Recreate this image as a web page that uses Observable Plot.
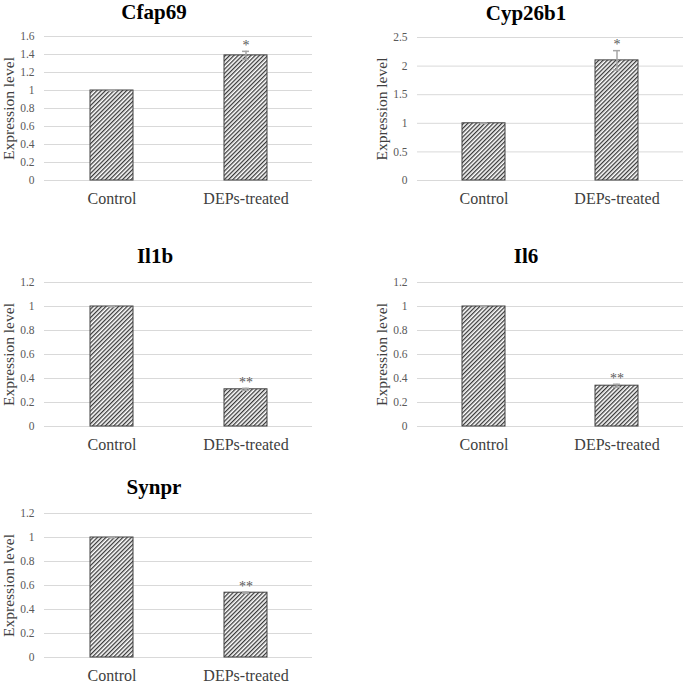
<!DOCTYPE html>
<html>
<head>
<meta charset="utf-8">
<script src="https://cdn.jsdelivr.net/npm/d3@7"></script>
<script src="https://cdn.jsdelivr.net/npm/@observablehq/plot@0.6"></script>
<style>
  body { margin: 0; background: #fff; }
  #wrap { position: relative; width: 685px; height: 683px; overflow: hidden; font-family: "Liberation Serif", serif; }
  #wrap svg, #wrap svg text { font-family: "Liberation Serif", serif !important; }
  .panel { position: absolute; }
  .title { position: absolute; width: 200px; text-align: center; font: bold 21px/22px "Liberation Serif", serif; color: #000; }
</style>
</head>
<body>
<svg width="0" height="0" style="position:absolute">
  <defs>
    <pattern id="hatch" patternUnits="userSpaceOnUse" width="3" height="3" patternTransform="rotate(45)">
      <rect width="3" height="3" fill="#ffffff"/>
      <rect width="1.3" height="3" fill="#3a3a3a"/>
    </pattern>
  </defs>
</svg>
<div id="wrap"></div>
<script>
// ---- data ----
const genes = ["Cfap69", "Cyp26b1", "Il1b", "Il6", "Synpr"];
const groups = ["Control", "DEPs-treated"];
const controlValues = [1, 1, 1, 1, 1];
const controlErrors = [0.003, 0.003, 0.002, 0.002, 0.002];
const treatedValues = [1.39, 2.1, 0.31, 0.34, 0.54];
const treatedErrors = [0.045, 0.17, 0.008, 0.012, 0.005];
const significance = ["*", "*", "**", "**", "**"];
const yMaxes = [1.6, 2.5, 1.2, 1.2, 1.2];
const yTickValues = [
  [0, 0.2, 0.4, 0.6, 0.8, 1, 1.2, 1.4, 1.6],
  [0, 0.5, 1, 1.5, 2, 2.5],
  [0, 0.2, 0.4, 0.6, 0.8, 1, 1.2],
  [0, 0.2, 0.4, 0.6, 0.8, 1, 1.2],
  [0, 0.2, 0.4, 0.6, 0.8, 1, 1.2]
];
const yLabel = "Expression level";

// ---- layout ----
const layout = [
  {left: 0,   top: 0,   width: 340, height: 215, mt: 36, mb: 35, ml: 44, mr: 28, tx: 54,  ty: 1},
  {left: 340, top: 0,   width: 345, height: 215, mt: 37, mb: 35, ml: 77, mr: 2,  tx: 426, ty: 1.5},
  {left: 0,   top: 246, width: 340, height: 215, mt: 36, mb: 35, ml: 44, mr: 28, tx: 55,  ty: 245},
  {left: 340, top: 246, width: 345, height: 215, mt: 36, mb: 35, ml: 77, mr: 2,  tx: 426, ty: 245},
  {left: 0,   top: 477, width: 340, height: 206, mt: 36, mb: 26, ml: 44, mr: 28, tx: 54,  ty: 476}
];

const SERIF = "Liberation Serif, Times New Roman, serif";
const wrap = document.getElementById("wrap");
const fmt = d => String(+d.toFixed(1));

genes.forEach((gene, i) => {
  const L = layout[i];
  const data = [
    {group: groups[0], value: controlValues[i], err: controlErrors[i], sig: ""},
    {group: groups[1], value: treatedValues[i], err: treatedErrors[i], sig: significance[i]}
  ];
  const chart = Plot.plot({
    width: L.width,
    height: L.height,
    marginTop: L.mt,
    marginBottom: L.mb,
    marginLeft: L.ml,
    marginRight: L.mr,
    style: {fontFamily: SERIF, background: "transparent", overflow: "visible"},
    x: {domain: groups, paddingInner: 0.68, paddingOuter: 0.34, label: null},
    y: {domain: [0, yMaxes[i]], label: null},
    marks: [
      Plot.ruleY(yTickValues[i], {stroke: "#d9d9d9", strokeWidth: 1}),
      Plot.barY(data, {x: "group", y: "value", fill: "url(#hatch)", stroke: "#404040", strokeWidth: 1}),
      Plot.ruleX(data, {x: "group", y1: d => d.value - d.err, y2: d => d.value + d.err, stroke: "#a6a6a6", strokeWidth: 1.5}),
      Plot.tickY(data, {x: "group", y: d => d.value + d.err, stroke: "#a6a6a6", strokeWidth: 1.5, insetLeft: 18, insetRight: 18}),
      Plot.tickY(data, {x: "group", y: d => d.value - d.err, stroke: "#a6a6a6", strokeWidth: 1.5, insetLeft: 18, insetRight: 18}),
      Plot.text(data.filter(d => d.sig), {x: "group", y: d => d.value + d.err, text: "sig", dy: -6, fill: "#595959", fontSize: 14, fontFamily: SERIF}),
      Plot.axisY({ticks: yTickValues[i], tickFormat: fmt, tickSize: 0, tickPadding: 10, fontSize: 11.5, fontFamily: SERIF, fill: "#595959", label: null}),
      Plot.axisX({tickSize: 0, tickPadding: 12, fontSize: 16, fontFamily: SERIF, fill: "#404040", label: null}),
      Plot.text([yLabel], {text: d => d, frameAnchor: "left", textAnchor: "middle", rotate: -90, dx: -35, fontSize: 15.5, fontFamily: SERIF, fill: "#404040"})
    ]
  });
  chart.classList.add("panel");
  chart.style.left = L.left + "px";
  chart.style.top = L.top + "px";
  wrap.appendChild(chart);

  const t = document.createElement("div");
  t.className = "title";
  t.textContent = gene;
  t.style.left = L.tx + "px";
  t.style.top = L.ty + "px";
  wrap.appendChild(t);
});
</script>
</body>
</html>
